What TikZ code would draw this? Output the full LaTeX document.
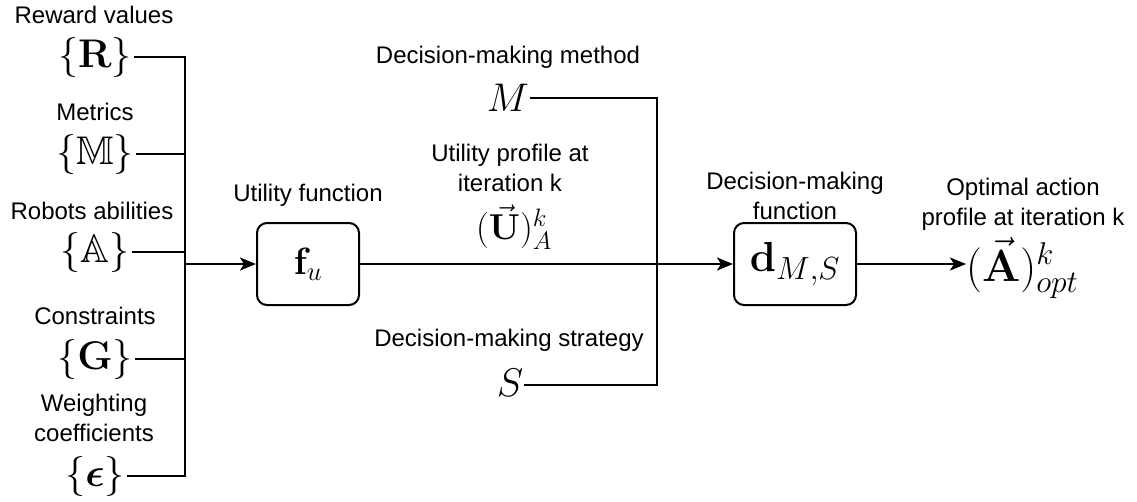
\RequirePackage{fix-cm}
\documentclass[tikz,border=0pt]{standalone}
\usepackage{amsmath,amssymb,bm}
\usepackage[no-math]{fontspec}
\setmainfont{Liberation Sans}
\usetikzlibrary{arrows.meta}
\begin{document}
\begin{tikzpicture}[x=1pt,y=-1pt,
  lbl/.style={font=\fontsize{24}{30}\selectfont, align=center, inner sep=0pt},
  sym/.style={font=\fontsize{40}{48}\selectfont, inner sep=2pt},
  boxsym/.style={font=\fontsize{38}{46}\selectfont, inner sep=0pt},
  fbox/.style={draw, line width=2pt, rounded corners=10pt, minimum height=82pt, inner sep=0pt},
  wire/.style={line width=2pt},
  arr/.style={line width=2pt, -{Stealth[length=16pt,width=13pt,inset=4pt]}}
]
\useasboundingbox (0,0) rectangle (1137,501);

% input labels and symbols
\node[lbl] (tR) at (94,15) {Reward values};
\node[sym] (R) at (95,57) {$\{\mathbf{R}\}$};
\node[lbl] (tM) at (95,112) {Metrics};
\node[sym] (Mb) at (95,154) {$\{\mathbb{M}\}$};
\node[lbl] (tA) at (92,211) {Robots abilities};
\node[sym] (Ab) at (95,252) {$\{\mathbb{A}\}$};
\node[lbl] (tG) at (95,316) {Constraints};
\node[sym] (G) at (95,359) {$\{\mathbf{G}\}$};
\node[lbl] (tE) at (94,418) {Weighting\\coefficients};
\node[sym] (E) at (95,476) {$\{\bm{\epsilon}\}$};

% bus coordinates
\coordinate (bR) at (185,57);
\coordinate (bM) at (185,154);
\coordinate (bA) at (185,252);
\coordinate (bG) at (185,359);
\coordinate (bE) at (185,476);
\coordinate (bO) at (185,264);

% utility function box
\node[lbl] (tf) at (308,195) {Utility function};
\node[fbox, minimum width=102pt] (fu) at (308,264) {};
\node[boxsym] (fus) at (fu.center) {$\mathbf{f}_u$};

% decision-making inputs
\node[lbl] (tMeth) at (508,57) {Decision-making method};
\node[sym, inner sep=1pt] (Mm) at (508,98) {$M$};
\node[lbl] (tStr) at (509,340) {Decision-making strategy};
\node[sym, inner sep=1pt] (Ss) at (510,383) {$S$};
\coordinate (jM) at (657,98);
\coordinate (jS) at (657,385);

% utility profile label
\node[lbl] (tU) at (510,168) {Utility profile at\\iteration k};
\node[sym, font=\fontsize{36}{44}\selectfont] (U) at (514,227) {$(\vec{\mathbf{U}})^k_A$};

% decision-making function box
\node[lbl] (td) at (795,196) {Decision-making\\function};
\node[fbox, minimum width=122pt] (dm) at (795,264) {};
\node[boxsym, font=\fontsize{42}{50}\selectfont] (dms) at (dm.center)
  {$\mathbf{d}_{\text{\fontsize{32}{36}\selectfont$M{,}S$}}$};

% output
\node[lbl] (tOpt) at (1023,204) {Optimal action\\profile at iteration k};
\node[sym, font=\fontsize{45}{54}\selectfont, anchor=west, inner sep=0pt] (Aopt) at (966,268) {$(\vec{\mathbf{A}})^k_{opt}$};

% wiring
\draw[wire] (R.east) -- (bR) -- (bE) -- (E.east);
\draw[wire] (Mb.east) -- (bM);
\draw[wire] (Ab.east) -- (bA);
\draw[wire] (G.east) -- (bG);
\draw[arr] (bO) -- (fu.west);
\draw[arr] (fu.east) -- (dm.west);
\draw[wire] (Mm.east) -- (jM) -- (jS) -- (Ss.east |- jS);
\draw[arr] (dm.east) -- (dm.east -| Aopt.west);
\end{tikzpicture}
\end{document}
